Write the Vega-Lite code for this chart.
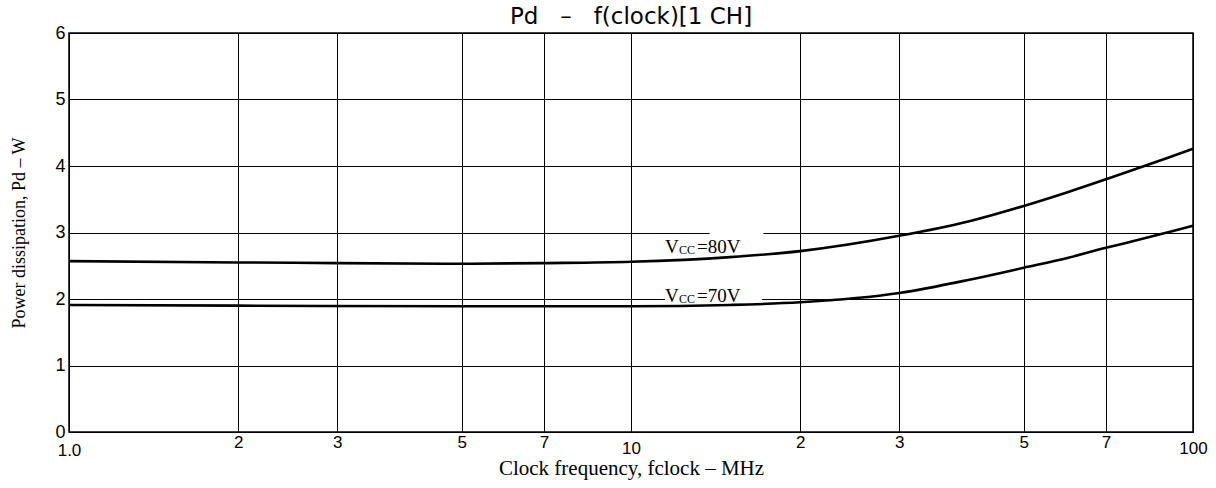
{
  "$schema": "https://vega.github.io/schema/vega-lite/v6.json",
  "width": 1124,
  "height": 399,
  "autosize": {"type": "none"},
  "padding": {"left": 69, "top": 33, "right": 23, "bottom": 56},
  "background": "white",
  "title": {
    "text": "Pd\u00a0\u00a0\u00a0–\u00a0\u00a0\u00a0f(clock)[1\u00a0CH]",
    "font": "DejaVu Sans",
    "fontSize": 23,
    "fontWeight": "normal",
    "color": "black",
    "anchor": "middle",
    "offset": -5
  },
  "config": {
    "view": {"stroke": "black", "strokeWidth": 1.5},
    "axis": {
      "grid": true,
      "gridColor": "black",
      "gridOpacity": 1,
      "gridWidth": 1,
      "domain": false,
      "ticks": false,
      "tickSize": 0,
      "labelColor": "black",
      "labelFont": "Liberation Sans",
      "titleColor": "black",
      "titleFont": "Liberation Serif",
      "titleFontWeight": "normal"
    }
  },
  "datasets": {
    "curves": [
      {"vcc": "80V", "f": 1, "pd": 2.57},
      {"vcc": "80V", "f": 2, "pd": 2.55},
      {"vcc": "80V", "f": 3, "pd": 2.54},
      {"vcc": "80V", "f": 5, "pd": 2.53},
      {"vcc": "80V", "f": 7, "pd": 2.54},
      {"vcc": "80V", "f": 10, "pd": 2.56},
      {"vcc": "80V", "f": 15, "pd": 2.63},
      {"vcc": "80V", "f": 20, "pd": 2.72},
      {"vcc": "80V", "f": 30, "pd": 2.95},
      {"vcc": "80V", "f": 40, "pd": 3.17},
      {"vcc": "80V", "f": 50, "pd": 3.4},
      {"vcc": "80V", "f": 60, "pd": 3.61},
      {"vcc": "80V", "f": 70, "pd": 3.8},
      {"vcc": "80V", "f": 80, "pd": 3.97},
      {"vcc": "80V", "f": 90, "pd": 4.12},
      {"vcc": "80V", "f": 100, "pd": 4.26},
      {"vcc": "70V", "f": 1, "pd": 1.91},
      {"vcc": "70V", "f": 2, "pd": 1.9},
      {"vcc": "70V", "f": 5, "pd": 1.89},
      {"vcc": "70V", "f": 7, "pd": 1.89},
      {"vcc": "70V", "f": 10, "pd": 1.89},
      {"vcc": "70V", "f": 15, "pd": 1.91},
      {"vcc": "70V", "f": 20, "pd": 1.95},
      {"vcc": "70V", "f": 30, "pd": 2.09},
      {"vcc": "70V", "f": 40, "pd": 2.29},
      {"vcc": "70V", "f": 50, "pd": 2.47},
      {"vcc": "70V", "f": 60, "pd": 2.62},
      {"vcc": "70V", "f": 70, "pd": 2.77},
      {"vcc": "70V", "f": 80, "pd": 2.89},
      {"vcc": "70V", "f": 90, "pd": 3.0},
      {"vcc": "70V", "f": 100, "pd": 3.1}
    ],
    "labels": [
      {"f": 11.5, "pd": 2.69, "rest": "=80V"},
      {"f": 11.5, "pd": 1.955, "rest": "=70V"}
    ],
    "gaps": [
      {"f": 13.8, "f2": 17.2, "pd": 3},
      {"f": 11.5, "f2": 17.1, "pd": 2}
    ]
  },
  "layer": [
    {
      "data": {"name": "gaps"},
      "mark": {"type": "rule", "color": "white", "strokeWidth": 3},
      "encoding": {
        "x": {"field": "f", "type": "quantitative", "scale": {"type": "log", "domain": [1, 100]}},
        "x2": {"field": "f2"},
        "y": {"field": "pd", "type": "quantitative"}
      }
    },
    {
      "data": {"name": "curves"},
      "mark": {"type": "line", "color": "black", "strokeWidth": 2.6, "interpolate": "monotone"},
      "encoding": {
        "x": {
          "field": "f",
          "type": "quantitative",
          "scale": {"type": "log", "domain": [1, 100]},
          "axis": {
            "values": [1, 2, 3, 5, 7, 10, 20, 30, 50, 70, 100],
            "labelExpr": "datum.value == 1 ? '1.0' : (datum.value >= 20 && datum.value < 100 ? '' + round(datum.value / 10) : '' + datum.value)",
            "labelFontSize": 17,
            "labelPadding": {"condition": [{"test": "datum.value == 1", "value": 10}, {"test": "datum.value == 10 || datum.value == 100", "value": 8}], "value": 2},
            "labelFlush": false,
            "labelOverlap": false,
            "title": "Clock frequency, fclock – MHz",
            "titleFontSize": 21,
            "titleBaseline": "alphabetic",
            "titleY": 42
          }
        },
        "y": {
          "field": "pd",
          "type": "quantitative",
          "scale": {"domain": [0, 6]},
          "axis": {
            "values": [0, 1, 2, 3, 4, 5, 6],
            "format": "d",
            "labelFontSize": 18,
            "labelPadding": 4,
            "title": "Power dissipation, Pd – W",
            "titleFontSize": 18,
            "titleBaseline": "alphabetic",
            "titleX": -45
          }
        },
        "detail": {"field": "vcc"}
      }
    },
    {
      "data": {"name": "labels"},
      "mark": {"type": "text", "text": "V", "font": "Liberation Serif", "fontSize": 19, "align": "left", "baseline": "alphabetic", "color": "black"},
      "encoding": {
        "x": {"field": "f", "type": "quantitative"},
        "y": {"field": "pd", "type": "quantitative"}
      }
    },
    {
      "data": {"name": "labels"},
      "mark": {"type": "text", "text": "CC", "font": "Liberation Serif", "fontSize": 12, "align": "left", "baseline": "alphabetic", "dx": 14, "dy": 1, "color": "black"},
      "encoding": {
        "x": {"field": "f", "type": "quantitative"},
        "y": {"field": "pd", "type": "quantitative"}
      }
    },
    {
      "data": {"name": "labels"},
      "mark": {"type": "text", "font": "Liberation Serif", "fontSize": 19, "align": "left", "baseline": "alphabetic", "dx": 32, "color": "black"},
      "encoding": {
        "x": {"field": "f", "type": "quantitative"},
        "y": {"field": "pd", "type": "quantitative"},
        "text": {"field": "rest"}
      }
    }
  ]
}
